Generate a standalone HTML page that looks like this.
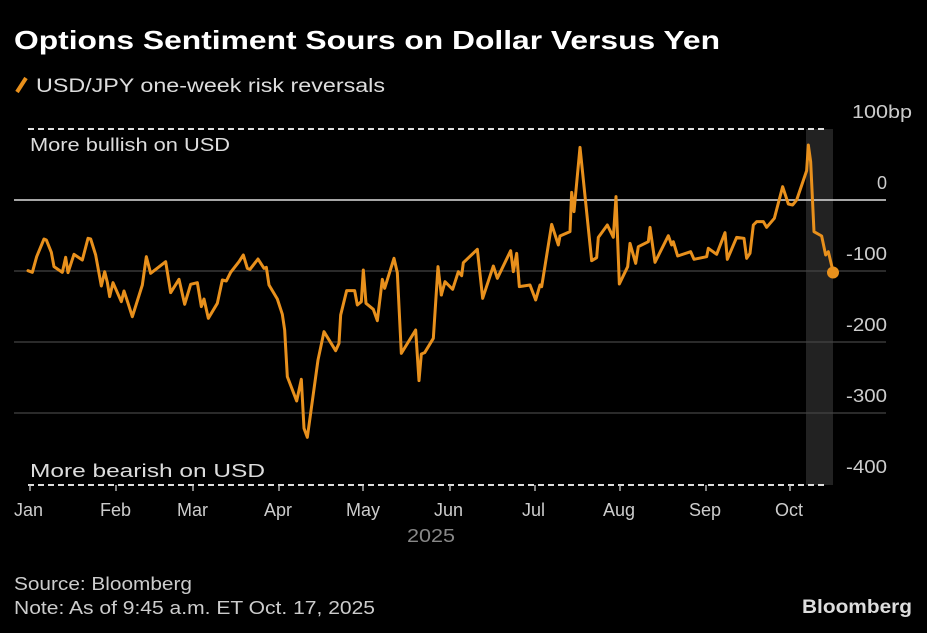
<!DOCTYPE html>
<html><head><meta charset="utf-8"><style>
body{margin:0;background:#000;width:927px;height:628px;overflow:hidden;font-family:"Liberation Sans",sans-serif;}
</style></head><body>
<svg width="927" height="628" xmlns="http://www.w3.org/2000/svg" font-family="Liberation Sans, sans-serif">
<rect width="927" height="628" fill="#000"/>
<text x="14" y="49" fill="#fff" font-size="26" font-weight="bold" textLength="706" lengthAdjust="spacingAndGlyphs">Options Sentiment Sours on Dollar Versus Yen</text>
<line x1="17" y1="92" x2="26" y2="78" stroke="#e8901c" stroke-width="4"/>
<text x="36" y="92" fill="#ddd" font-size="19" textLength="349" lengthAdjust="spacingAndGlyphs">USD/JPY one-week risk reversals</text>
<rect x="806" y="129" width="27" height="356" fill="#222"/>
<g stroke="#444" stroke-width="1.3">
<line x1="14" y1="271" x2="886" y2="271"/>
<line x1="14" y1="342" x2="886" y2="342"/>
<line x1="14" y1="413" x2="886" y2="413"/>
</g>
<line x1="14" y1="200" x2="886" y2="200" stroke="#ddd" stroke-width="1.5"/>
<line x1="28" y1="129" x2="828" y2="129" stroke="#ddd" stroke-width="2" stroke-dasharray="6,4"/>
<line x1="28" y1="485" x2="828" y2="485" stroke="#ddd" stroke-width="2" stroke-dasharray="6,4"/>
<text x="30" y="151" fill="#ddd" font-size="18" textLength="200" lengthAdjust="spacingAndGlyphs">More bullish on USD</text>
<text x="30" y="477" fill="#ddd" font-size="18" textLength="235" lengthAdjust="spacingAndGlyphs">More bearish on USD</text>
<g fill="#ccc" font-size="18" text-anchor="end">
<text x="912" y="118" textLength="60" lengthAdjust="spacingAndGlyphs">100bp</text>
<text x="887" y="189">0</text>
<text x="887" y="260" textLength="41" lengthAdjust="spacingAndGlyphs">-100</text>
<text x="887" y="331" textLength="41" lengthAdjust="spacingAndGlyphs">-200</text>
<text x="887" y="402" textLength="41" lengthAdjust="spacingAndGlyphs">-300</text>
<text x="887" y="473" textLength="41" lengthAdjust="spacingAndGlyphs">-400</text>
</g>
<g stroke="#ccc" stroke-width="1.3">
<line x1="30" y1="485" x2="30" y2="491"/><line x1="116" y1="485" x2="116" y2="491"/><line x1="193" y1="485" x2="193" y2="491"/><line x1="279" y1="485" x2="279" y2="491"/><line x1="363" y1="485" x2="363" y2="491"/><line x1="450" y1="485" x2="450" y2="491"/><line x1="535" y1="485" x2="535" y2="491"/><line x1="620" y1="485" x2="620" y2="491"/><line x1="706" y1="485" x2="706" y2="491"/><line x1="790" y1="485" x2="790" y2="491"/>
</g>
<g fill="#ccc" font-size="18">
<text x="14" y="516">Jan</text><text x="100" y="516">Feb</text><text x="177" y="516">Mar</text><text x="264" y="516">Apr</text><text x="346" y="516">May</text><text x="434" y="516">Jun</text><text x="522" y="516">Jul</text><text x="603" y="516">Aug</text><text x="689" y="516">Sep</text><text x="775" y="516">Oct</text>
</g>
<text x="431" y="542" fill="#888" font-size="18" text-anchor="middle" textLength="48" lengthAdjust="spacingAndGlyphs">2025</text>
<g fill="none" stroke="#e8901c" stroke-width="3" stroke-linejoin="round" stroke-linecap="round">
<g transform="translate(14,220) scale(0.33333)">
<polyline vector-effect="non-scaling-stroke" points="42,152 55,157 68,110 90,57 97,60 112,97 120,140 145,157 155,112 162,158 180,103 205,120 222,55 230,57 245,105 262,198 272,155 280,187 287,230 297,188 322,245 330,213 340,243 355,290 385,195 397,110 410,160 455,125 470,218 495,178 512,253 530,193 550,188 562,260 570,237 583,295 610,250 625,180 637,183 650,157 675,125 688,105 700,145 708,148 732,117 750,145 757,142 765,195 790,237 805,283 812,330 820,470 848,543 862,478 870,625 880,652 912,420 930,335 965,392 975,370 980,285 998,212 1022,212 1030,255 1042,245 1048,150 1056,250 1078,268 1090,302 1105,178 1112,205 1140,115 1150,158 1162,400 1205,330 1215,482 1222,402 1232,398 1258,355 1272,140 1282,225"/>
</g>
<g transform="translate(440,130) scale(0.33333)">
<polyline vector-effect="non-scaling-stroke" points="4,495 15,455 38,478 55,425 65,437 70,398 112,358 128,505 160,408 172,445 212,362 220,425 230,370 238,470 270,465 287,510 300,465 305,470 335,283 355,345 360,318 390,305 395,187 402,245 420,52 455,392 470,383 475,322 502,285 520,322 528,200 538,462 563,410 570,340 587,400 595,350 625,335 630,292 645,397 685,317 695,345 700,335 713,378 752,365 762,388 800,380 805,355 830,373 855,308 862,388 890,322 912,325 920,385 930,370 940,285 950,275 970,275 980,292 1003,265 1028,170 1045,222 1058,225 1070,210 1100,122 1105,45 1112,95 1122,305 1145,318 1157,375 1165,365 1180,428"/>
</g>
</g>
<circle cx="833" cy="272.5" r="6" fill="#e8901c"/>
<text x="14" y="590" fill="#ccc" font-size="18" textLength="178" lengthAdjust="spacingAndGlyphs">Source: Bloomberg</text>
<text x="14" y="614" fill="#ccc" font-size="18" textLength="361" lengthAdjust="spacingAndGlyphs">Note: As of 9:45 a.m. ET Oct. 17, 2025</text>
<text x="912" y="613" fill="#ddd" font-size="19" font-weight="bold" text-anchor="end" textLength="110" lengthAdjust="spacingAndGlyphs">Bloomberg</text>
</svg>
</body></html>
